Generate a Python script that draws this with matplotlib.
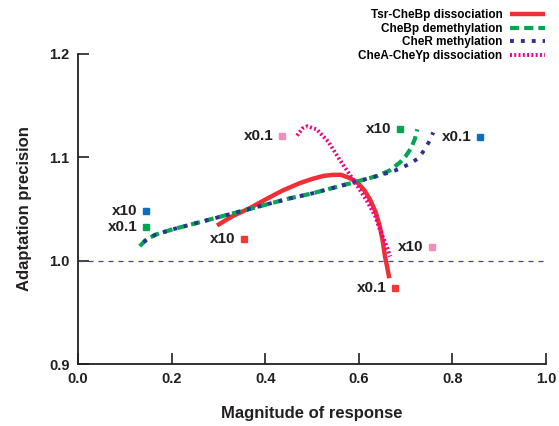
import matplotlib.pyplot as plt

plt.rcParams['font.family'] = ['Liberation Sans', 'DejaVu Sans']
plt.rcParams['font.weight'] = 'bold'

# curves
RED_X = [0.297, 0.33, 0.368, 0.40, 0.438, 0.474, 0.50, 0.525, 0.545, 0.562,
         0.58, 0.596, 0.612, 0.624, 0.636, 0.645, 0.651, 0.656, 0.661, 0.665]
RED_Y = [1.034, 1.043, 1.051, 1.059, 1.068, 1.075, 1.079, 1.082, 1.083, 1.083,
         1.080, 1.076, 1.068, 1.059, 1.047, 1.033, 1.019, 1.004, 0.993, 0.983]

GREEN_X = [0.132, 0.145, 0.165, 0.2, 0.25, 0.3, 0.35, 0.4, 0.45, 0.5, 0.55,
           0.6, 0.64, 0.665, 0.688, 0.70, 0.712, 0.72, 0.725]
GREEN_Y = [1.014, 1.020, 1.025, 1.030, 1.036, 1.042, 1.048, 1.054, 1.060,
           1.065, 1.071, 1.077, 1.082, 1.087, 1.095, 1.101, 1.109, 1.118, 1.127]

BLUE_X = [0.14, 0.15, 0.165, 0.2, 0.25, 0.3, 0.35, 0.4, 0.45, 0.5, 0.55,
          0.6, 0.64, 0.67, 0.688, 0.71, 0.727, 0.74, 0.75, 0.759]
BLUE_Y = [1.018, 1.021, 1.025, 1.030, 1.036, 1.042, 1.048, 1.054, 1.060,
          1.065, 1.071, 1.077, 1.082, 1.086, 1.089, 1.094, 1.099, 1.107,
          1.115, 1.124]

PINK_X = [0.468, 0.48, 0.49, 0.51, 0.535, 0.56, 0.59, 0.617, 0.635, 0.645,
          0.657, 0.667]
PINK_Y = [1.121, 1.128, 1.130, 1.127, 1.115, 1.097, 1.077, 1.058, 1.043,
          1.030, 1.017, 1.004]

# square markers with labels
MARK_X = [0.145, 0.145, 0.355, 0.436, 0.688, 0.859, 0.756, 0.677]
MARK_Y = [1.048, 1.033, 1.021, 1.121, 1.127, 1.120, 1.013, 0.974]
MARK_TEXT = ['x10', 'x0.1', 'x10', 'x0.1', 'x10', 'x0.1', 'x10', 'x0.1']
MARK_COLOR = ['#0a6fc0', '#00a651', '#ee3a36', '#f28cbc',
              '#00a651', '#0a6fc0', '#f28cbc', '#ee3a36']

fig = plt.figure(figsize=(5.59, 4.26), dpi=100)
ax = fig.add_axes([0.1395, 0.1455, 0.8373, 0.728])

ax.axhline(1.0, color='#3d3dcc', lw=0.9, ls=(0, (4, 4)))

ax.plot(RED_X, RED_Y, color='#ee2f35', lw=3.2, solid_capstyle='butt',
        label='Tsr-CheBp dissociation')
ax.plot(GREEN_X, GREEN_Y, color='#00a651', lw=3.0, ls=(0, (2.2, 1.2)),
        label='CheBp demethylation')
ax.plot(BLUE_X, BLUE_Y, color='#2e3192', lw=2.8, ls=(0, (1, 1.8)),
        label='CheR methylation')
ax.plot(PINK_X, PINK_Y, color='#ec008c', lw=2.8, ls=(0, (0.5, 0.6)),
        label='CheA-CheYp dissociation')

for x, y, t, c in zip(MARK_X, MARK_Y, MARK_TEXT, MARK_COLOR):
    ax.plot(x, y, 's', color=c, ms=5)
    ax.annotate(t, (x, y), xytext=(-6, 0), textcoords='offset points',
                ha='right', va='center', fontsize=11, fontweight='bold',
                color='#231f20')

ax.set_xlim(0, 1.0)
ax.set_ylim(0.9, 1.2)
ax.set_xticks([0.0, 0.2, 0.4, 0.6, 0.8, 1.0])
ax.set_yticks([0.9, 1.0, 1.1, 1.2])
ax.spines['top'].set_visible(False)
ax.spines['right'].set_visible(False)
for s in ['left', 'bottom']:
    ax.spines[s].set_linewidth(1.3)
    ax.spines[s].set_color('#231f20')
ax.tick_params(direction='in', length=8, width=1.2, labelsize=10.5,
               colors='#231f20', pad=6)
for lab in ax.get_xticklabels() + ax.get_yticklabels():
    lab.set_fontweight('bold')

ax.set_xlabel('Magnitude of response', fontsize=12, fontweight='bold',
              color='#231f20', labelpad=14)
ax.set_ylabel('Adaptation precision', fontsize=12, fontweight='bold',
              color='#231f20', labelpad=12)

fig.legend(loc='upper right', bbox_to_anchor=(0.992, 1.0), frameon=False,
           markerfirst=False, fontsize=8.5, handlelength=3.0,
           labelspacing=0.12, handletextpad=0.6, borderpad=0.3)

fig.savefig('out.png', dpi=100)
